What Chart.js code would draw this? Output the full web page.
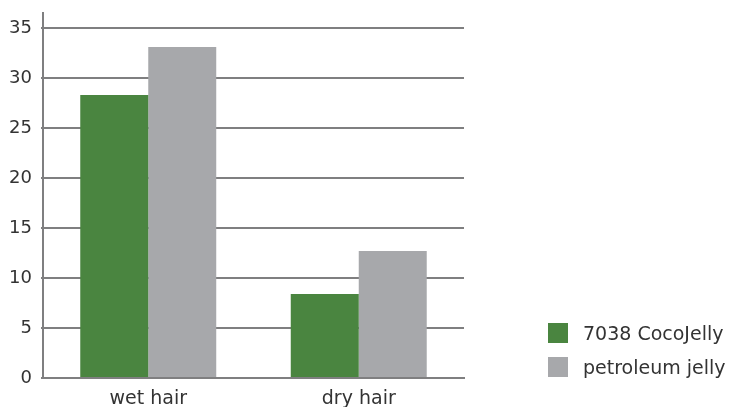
<!DOCTYPE html>
<html>
<head>
<meta charset="utf-8">
<script src="https://cdn.jsdelivr.net/npm/chart.js@4/dist/chart.umd.min.js"></script>
<style>
  body { margin: 0; background: #fff; }
  #wrap { position: relative; width: 736px; height: 407px; }
  #legend { position: absolute; left: 548px; top: 323px; font: 19px "DejaVu Sans", sans-serif; color: #333; }
  .item { display: flex; align-items: center; height: 20px; margin-bottom: 14px; }
  .box { width: 20px; height: 20px; margin-right: 15px; flex: none; }
</style>
</head>
<body>
<div id="wrap">
  <canvas id="myChart" width="736" height="407"></canvas>
  <div id="legend"></div>
</div>
<script>
const categories = ['wet hair', 'dry hair'];
const cocoJelly = [28.3, 8.4];
const petroleumJelly = [33.1, 12.7];
const seriesNames = ['7038 CocoJelly', 'petroleum jelly'];
const yTicks = [0, 5, 10, 15, 20, 25, 30, 35];
const colours = ['#4a8540', '#a7a8ab'];
const gridGrey = '#7f7f80';

var ctx = document.getElementById('myChart').getContext('2d');
var chart = new Chart(ctx, {
    type: 'bar',
    data: {
        labels: categories,
        datasets: [{
            label: seriesNames[0],
            data: cocoJelly,
            backgroundColor: colours[0],
            categoryPercentage: 0.646,
            barPercentage: 1
        }, {
            label: seriesNames[1],
            data: petroleumJelly,
            backgroundColor: colours[1],
            categoryPercentage: 0.646,
            barPercentage: 1
        }]
    },
    options: {
        responsive: false,
        animation: false,
        layout: { padding: { left: 0, right: 272, top: 13, bottom: 0 } },
        plugins: { legend: { display: false }, tooltip: { enabled: false } },
        scales: {
            x: {
                grid: { display: false },
                border: { color: gridGrey, width: 2 },
                ticks: { color: '#333', font: { family: 'DejaVu Sans', size: 19 }, padding: 2 },
                afterFit: (scale) => { scale.height = 29; scale.paddingLeft = 0; scale.paddingRight = 0; }
            },
            y: {
                min: 0,
                max: 36.5,
                afterBuildTicks: (scale) => { scale.ticks = yTicks.map(v => ({ value: v })); },
                afterFit: (scale) => { scale.width = 43; scale.paddingTop = 0; scale.paddingBottom = 0; },
                grid: { color: gridGrey, lineWidth: 2, tickLength: 2 },
                border: { color: gridGrey, width: 2 },
                ticks: { color: '#333', font: { family: 'DejaVu Sans', size: 18 }, padding: 9 }
            }
        }
    }
});

// legend built from the datasets
const legend = document.getElementById('legend');
chart.data.datasets.forEach((ds) => {
    const item = document.createElement('div');
    item.className = 'item';
    item.innerHTML = '<span class="box" style="background:' + ds.backgroundColor + '"></span>' + ds.label;
    legend.appendChild(item);
});
</script>
</body>
</html>
